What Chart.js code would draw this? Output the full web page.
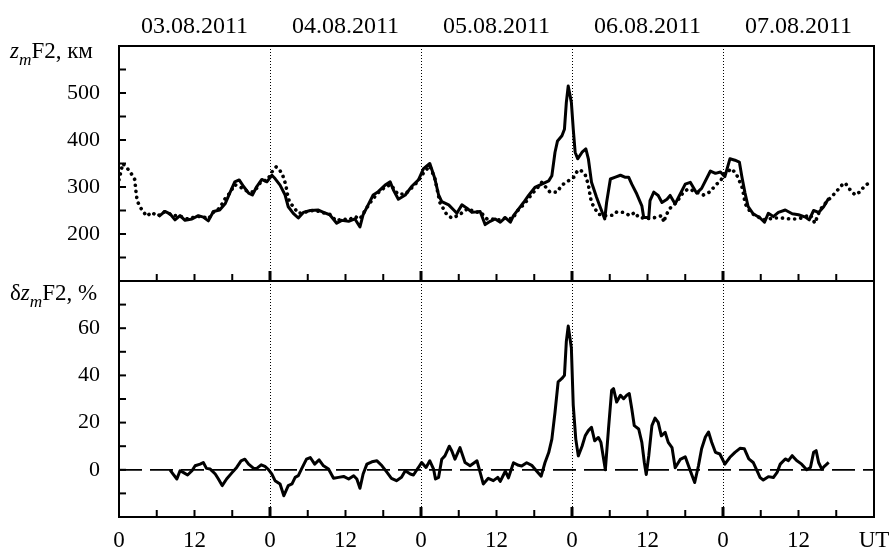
<!DOCTYPE html>
<html>
<head>
<meta charset="utf-8">
<script src="https://cdn.jsdelivr.net/npm/chart.js@4.4.1/dist/chart.umd.min.js"></script>
<style>
    html, body { margin: 0; padding: 0; background: #fff; }
    #wrap { position: relative; width: 890px; height: 549px; }
    #wrap canvas { position: absolute; left: 0; top: 0; }
</style>
</head>
<body>
<div id="wrap">
    <canvas id="zmChart" width="890" height="549"></canvas>
    <canvas id="dzChart" width="890" height="549"></canvas>
</div>
<script>
const FONT = "'Liberation Serif', 'Times New Roman', serif";

// observed zmF2, km (solid line), hours from 03.08.2011 00 UT
const zmHours = [
    6.3, 7.3, 8.1, 8.9, 9.7, 10.5, 11.6, 12.6, 13.4, 14.2,
    15, 16, 16.9, 17.6, 18.4, 19.1, 19.8, 20.6, 21.2, 21.9,
    22.7, 23.5, 24.3, 24.8, 25.6, 26.4, 26.9, 27.7, 28.5, 29.3,
    30.4, 31.7, 32.5, 33.5, 34.6, 35.4, 36.5, 37.5, 38.3, 38.8,
    39.6, 40.4, 41.2, 42.3, 43.1, 43.6, 44.4, 45.5, 46.5, 47.6,
    48.4, 49.4, 50.2, 50.8, 51.3, 52.4, 53.2, 53.7, 54.5, 55.3,
    56.1, 57.4, 58.2, 59, 59.8, 60.6, 61.4, 62.2, 62.7, 63.5,
    64.3, 65.1, 66.1, 67.2, 68.3, 68.8, 69.3, 69.7, 70.4, 70.8,
    71.1, 71.4, 71.9, 72.2, 72.5, 72.9, 73.6, 74.2, 74.6, 75.1,
    75.9, 76.6, 77.2, 77.5, 78.1, 78.9, 79.7, 80.4, 81, 81.5,
    82.3, 83.1, 83.4, 84.2, 84.4, 85, 85.7, 86.3, 87.1, 87.6,
    88.4, 89.2, 90, 90.8, 91.8, 92.6, 94, 94.8, 95.6, 96.3,
    97.1, 97.9, 98.6, 99, 99.5, 100, 100.8, 101.9, 102.6, 103.2,
    104, 104.8, 105.9, 107, 108, 109.1, 109.7, 110.4, 111.2, 112,
    112.8,
];
const zmValues = [
    237, 248, 243, 230, 239, 229, 232, 239, 236, 228,
    248, 251, 265, 287, 311, 315, 301, 287, 283, 301,
    316, 311, 325, 318, 304, 283, 258, 244, 234, 246,
    250, 251, 246, 241, 223, 229, 227, 232, 215, 241,
    262, 283, 290, 304, 311, 294, 274, 283, 301, 315,
    339, 350, 318, 283, 269, 262, 251, 244, 262, 255,
    246, 248, 220, 227, 232, 225, 235, 225, 239, 253,
    267, 282, 299, 306, 313, 324, 374, 398, 409, 423,
    480, 515, 480, 423, 374, 360, 374, 381, 360, 310,
    278, 253, 232, 267, 317, 321, 325, 321, 321, 306,
    285, 260, 235, 235, 271, 289, 282, 267, 274, 282,
    264, 285, 306, 310, 287, 297, 334, 329, 332, 322,
    360, 357, 353, 322, 287, 258, 243, 234, 225, 244,
    237, 246, 251, 243, 241, 236, 230, 250, 246, 258,
    276,
];

// quiet-time reference zmF2, km (dotted line)
const medHours = [
    0, 0.6, 1.7, 2.5, 2.7, 2.9, 3.6, 4.4, 5.2, 6.1,
    7.3, 8.5, 9.7, 10.9, 12, 13.2, 14.2, 15, 16, 16.9,
    17.6, 18.4, 19.5, 20.5, 21.5, 22.6, 23.6, 24.3, 25, 25.9,
    26.5, 26.8, 27.1, 27.7, 28.5, 29.5, 30.5, 31.5, 32.5, 33.5,
    34.5, 35.5, 36.5, 37.5, 38.3, 39.2, 40.2, 41.2, 42.3, 43.2,
    44.3, 45.5, 46.5, 47.5, 48.4, 49.4, 50.2, 51, 52.1, 52.9,
    54.2, 54.7, 55.5, 56.5, 57.5, 58.5, 59.5, 60.5, 61.5, 62.5,
    63.5, 64.5, 65.5, 66.5, 67.2, 68.5, 69.6, 70.4, 71.4, 72.3,
    72.8, 73.3, 74.1, 74.6, 74.9, 75.1, 75.7, 76.2, 77.3, 78.6,
    79.1, 80.2, 81.2, 82, 82.6, 84.2, 85.2, 86.3, 86.6, 86.9,
    87.6, 88.7, 89.7, 90.5, 91.6, 92.9, 94, 94.8, 95.6, 96.3,
    97.4, 98.2, 99, 99.3, 99.5, 100.3, 101.1, 102.7, 104, 105.4,
    106.7, 107.7, 108.5, 109.9, 110.6, 111.4, 112.5, 113.3, 113.8, 114.9,
    115.4, 116.2, 117, 117.8, 118.6, 119.8,
];
const medValues = [
    315, 350, 334, 316, 290, 270, 252, 238, 246, 238,
    248, 240, 238, 232, 236, 238, 232, 246, 255, 276,
    287, 305, 298, 290, 290, 312, 315, 332, 343, 330,
    305, 283, 268, 258, 244, 246, 250, 249, 245, 242,
    228, 232, 230, 237, 232, 252, 272, 288, 300, 305,
    285, 285, 298, 312, 330, 345, 318, 267, 241, 234,
    241, 248, 254, 247, 246, 232, 232, 230, 235, 232,
    252, 265, 283, 298, 310, 289, 289, 304, 313, 321,
    333, 337, 326, 305, 280, 267, 253, 242, 239, 240,
    247, 246, 239, 246, 235, 233, 235, 239, 225, 239,
    255, 269, 289, 296, 290, 283, 290, 304, 313, 329,
    339, 325, 301, 283, 265, 248, 239, 230, 234, 234,
    232, 232, 234, 241, 223, 251, 269, 280, 287, 304,
    309, 294, 283, 290, 304, 311,
];

// deviation dzmF2, %
const dzHours = [
    8.1, 8.6, 9.2, 9.7, 10.2, 10.9, 11.6, 12.1, 12.9, 13.4,
    13.9, 14.5, 15.3, 15.8, 16.4, 17.1, 17.9, 18.7, 19.4, 20,
    20.6, 21.4, 21.9, 22.6, 23.2, 23.8, 24.3, 24.8, 25.6, 26.2,
    26.9, 27.5, 28, 28.5, 29, 29.8, 30.4, 31.1, 31.8, 32.5,
    33.3, 34.1, 34.9, 35.7, 36.5, 37.3, 37.8, 38.3, 38.8, 39.4,
    40.2, 41, 41.8, 42.6, 43.3, 44.1, 44.9, 45.5, 46.3, 46.8,
    47.6, 48.1, 48.8, 49.4, 50, 50.3, 50.8, 51.3, 51.8, 52.5,
    52.9, 53.4, 54.2, 55, 55.8, 56.9, 57.4, 57.9, 58.7, 59.5,
    60.2, 60.6, 61.4, 61.9, 62.7, 63.5, 64, 64.8, 65.6, 66.4,
    67.1, 67.7, 68.3, 68.8, 69.3, 69.8, 70.4, 70.8, 71.1, 71.4,
    71.9, 72.2, 72.6, 73, 73.6, 74.1, 74.6, 75.1, 75.6, 76.2,
    76.6, 77.3, 77.8, 78.3, 78.6, 79.1, 79.7, 80.2, 80.7, 81.1,
    81.5, 81.9, 82.6, 83.1, 83.5, 83.8, 84.2, 84.7, 85.2, 85.7,
    86.2, 86.8, 87.3, 87.9, 88.4, 89.2, 90, 90.8, 91.5, 92.1,
    92.6, 93.2, 93.7, 94.2, 94.8, 95.5, 96.3, 97.1, 97.9, 98.7,
    99.4, 100.1, 100.8, 101.4, 101.9, 102.4, 103.2, 104, 104.6, 105.1,
    105.9, 106.4, 107, 107.7, 108.5, 109.3, 109.9, 110.4, 110.8, 111.2,
    111.7, 112.2, 112.8,
];
const dzValues = [
    0, -1.8, -3.9, -0.4, -1.1, -2.2, -0.4, 1.7, 2.4, 3.1,
    0.6, 0.3, -1.8, -3.9, -6.7, -3.9, -1.4, 1, 3.8, 4.5,
    2.4, 0.6, 0.6, 2.1, 1.4, 0, -1.8, -4.6, -6, -11,
    -6.7, -6, -3.2, -2.5, 0.3, 4.5, 5.2, 2.4, 4.2, 1.7,
    0.3, -3.6, -3.2, -2.8, -3.9, -2.5, -3.9, -7.8, -1.8, 2.4,
    3.4, 3.8, 1.7, -1.1, -3.6, -4.6, -3.2, -0.4, -1.8, -2.2,
    1, 3.1, 1, 3.8, 0.3, -3.9, -3.2, 4.5, 5.9, 10,
    8, 4.5, 9.4, 3.1, 1.7, 3.8, -1.1, -6, -3.6, -4.6,
    -3.2, -4.9, -0.6, -3.4, 3, 1.9, 1.6, 3, 1.9, -0.6,
    -2.7, 3, 7.3, 13, 24.4, 37.3, 38.7, 40, 54.4, 60.9,
    51.6, 27.3, 13, 5.9, 10, 14.4, 16.6, 18, 12.3, 13.7,
    11.6, 0, 17.3, 33.7, 34.4, 28.7, 31.6, 30.1, 31.6, 32.3,
    25.9, 18.7, 17.3, 11.6, 3, -2, 5.9, 18.7, 21.9, 20.1,
    14.4, 15.9, 11.6, 9.4, 0.9, 4.4, 5.5, -0.4, -5.4, 1.7,
    8.9, 13.9, 16, 11.7, 7.4, 6.7, 2.4, 5.3, 7.4, 9.1,
    8.9, 4.6, 3.1, -0.4, -3.3, -4.3, -2.9, -3.3, -1.1, 2.4,
    4.6, 3.9, 6, 3.9, 2.4, 0, 1, 7.4, 8.1, 3.1,
    0.3, 1.7, 3.1,
];

const HOUR_MIN = 0;
const HOUR_MAX = 120;
const HOUR_STEP = 6;
const DAY_HOURS = [24, 48, 72, 96];
const DATE_HOURS = [12, 36, 60, 84, 108];
const DATE_LABELS = ['03.08.2011', '04.08.2011', '05.08.2011', '06.08.2011', '07.08.2011'];
const HOUR_LABELS = ['0', '', '12', '', '0', '', '12', '', '0', '', '12', '',
    '0', '', '12', '', '0', '', '12', '', 'UT'];
const ZM_TICK_LABELS = [200, 300, 400, 500];
const DZ_TICK_LABELS = [0, 20, 40, 60];

const ZM_TITLE = [{ text: 'z', italic: true }, { text: 'm', italic: true, sub: true }, { text: 'F2, км' }];
const DZ_TITLE = [{ text: 'δ' }, { text: 'z', italic: true }, { text: 'm', italic: true, sub: true }, { text: 'F2, %' }];

function points(hours, values) {
    return hours.map((h, i) => ({ x: h, y: values[i] }));
}

function drawRich(ctx, x, y, parts, size) {
    ctx.textAlign = 'left';
    ctx.textBaseline = 'alphabetic';
    parts.forEach(p => {
        const s = p.sub ? size * 0.75 : size;
        ctx.font = `${p.italic ? 'italic ' : ''}${s}px ${FONT}`;
        ctx.fillText(p.text, x, y + (p.sub ? size * 0.3 : 0));
        x += ctx.measureText(p.text).width;
    });
}

// frame, inward ticks, day separators, panel titles
const framePlugin = {
    id: 'frame',
    beforeDatasetsDraw(chart) {
        const { ctx, chartArea: a } = chart;
        const x = chart.scales.x;
        ctx.save();
        ctx.strokeStyle = '#000';
        ctx.lineWidth = 1;
        ctx.setLineDash([1, 2]);
        DAY_HOURS.forEach(h => {
            const px = Math.round(x.getPixelForValue(h)) + 0.5;
            ctx.beginPath();
            ctx.moveTo(px, a.top);
            ctx.lineTo(px, a.bottom);
            ctx.stroke();
        });
        ctx.restore();
    },
    afterDraw(chart, args, opts) {
        const { ctx, chartArea: a } = chart;
        const x = chart.scales.x, y = chart.scales.y;
        ctx.save();
        ctx.strokeStyle = '#000';
        ctx.fillStyle = '#000';

        for (let h = HOUR_MIN + HOUR_STEP; h < HOUR_MAX; h += HOUR_STEP) {
            const px = x.getPixelForValue(h);
            const major = h % 24 === 0;
            ctx.lineWidth = major ? 3 : 2;
            ctx.beginPath();
            ctx.moveTo(px, a.bottom);
            ctx.lineTo(px, a.bottom - (major ? 10 : 7));
            ctx.stroke();
        }

        ctx.lineWidth = 2;
        y.ticks.forEach(t => {
            if (t.value <= y.min || t.value >= y.max) return;
            const py = y.getPixelForValue(t.value);
            ctx.beginPath();
            ctx.moveTo(a.left, py);
            ctx.lineTo(a.left + 7, py);
            ctx.stroke();
        });

        ctx.strokeRect(a.left, a.top, a.right - a.left, a.bottom - a.top);

        drawRich(ctx, 10, opts.titleY, opts.title, 23);

        if (opts.dates) {
            ctx.font = `24px ${FONT}`;
            ctx.textAlign = 'center';
            ctx.textBaseline = 'alphabetic';
            DATE_LABELS.forEach((d, i) => {
                ctx.fillText(d, x.getPixelForValue(DATE_HOURS[i]), 33);
            });
        }
        ctx.restore();
    },
};

function yAxis(min, max, step, labels) {
    return {
        min: min,
        max: max,
        grid: { display: false },
        border: { display: false },
        ticks: {
            stepSize: step,
            autoSkip: false,
            padding: 11,
            color: '#000',
            font: { family: FONT, size: 22 },
            callback: (v) => labels.includes(v) ? String(v) : '',
        },
        afterFit: (s) => { s.width = 119; },
    };
}

const common = {
    responsive: false,
    animation: false,
    devicePixelRatio: 1,
    events: [],
};

new Chart(document.getElementById('zmChart'), {
    type: 'line',
    data: {
        datasets: [
            {
                label: 'quiet',
                data: points(medHours, medValues),
                borderColor: '#000',
                borderWidth: 3.6,
                borderDash: [0.1, 6],
                borderCapStyle: 'round',
                pointRadius: 0,
                tension: 0,
                fill: false,
            },
            {
                label: 'zmF2',
                data: points(zmHours, zmValues),
                borderColor: '#000',
                borderWidth: 3,
                borderJoinStyle: 'round',
                pointRadius: 0,
                tension: 0,
                fill: false,
            },
        ],
    },
    options: {
        ...common,
        layout: { padding: { top: 46, bottom: 268, left: 0, right: 16 } },
        plugins: {
            legend: { display: false },
            tooltip: { enabled: false },
            frame: { title: ZM_TITLE, titleY: 58, dates: true },
        },
        scales: {
            x: { type: 'linear', min: HOUR_MIN, max: HOUR_MAX, display: false },
            y: yAxis(100, 600, 50, ZM_TICK_LABELS),
        },
    },
    plugins: [framePlugin],
});

new Chart(document.getElementById('dzChart'), {
    type: 'line',
    data: {
        datasets: [
            {
                label: 'zero',
                data: [{ x: HOUR_MIN, y: 0 }, { x: HOUR_MAX, y: 0 }],
                borderColor: '#000',
                borderWidth: 1.8,
                borderDash: [23, 8],
                pointRadius: 0,
                fill: false,
            },
            {
                label: 'dzmF2',
                data: points(dzHours, dzValues),
                borderColor: '#000',
                borderWidth: 3,
                borderJoinStyle: 'round',
                pointRadius: 0,
                tension: 0,
                fill: false,
            },
        ],
    },
    options: {
        ...common,
        layout: { padding: { top: 281, bottom: 0, left: 0, right: 16 } },
        plugins: {
            legend: { display: false },
            tooltip: { enabled: false },
            frame: { title: DZ_TITLE, titleY: 300, dates: false },
        },
        scales: {
            x: {
                type: 'linear',
                min: HOUR_MIN,
                max: HOUR_MAX,
                grid: { display: false },
                border: { display: false },
                ticks: {
                    stepSize: HOUR_STEP,
                    autoSkip: false,
                    maxRotation: 0,
                    minRotation: 0,
                    padding: 2,
                    color: '#000',
                    font: { family: FONT, size: 23 },
                    callback: (v) => HOUR_LABELS[Math.round(v / HOUR_STEP)] ?? '',
                },
                afterFit: (s) => { s.height = 32; s.paddingLeft = 0; s.paddingRight = 0; },
            },
            y: yAxis(-20, 80, 10, DZ_TICK_LABELS),
        },
    },
    plugins: [framePlugin],
});
</script>
</body>
</html>
